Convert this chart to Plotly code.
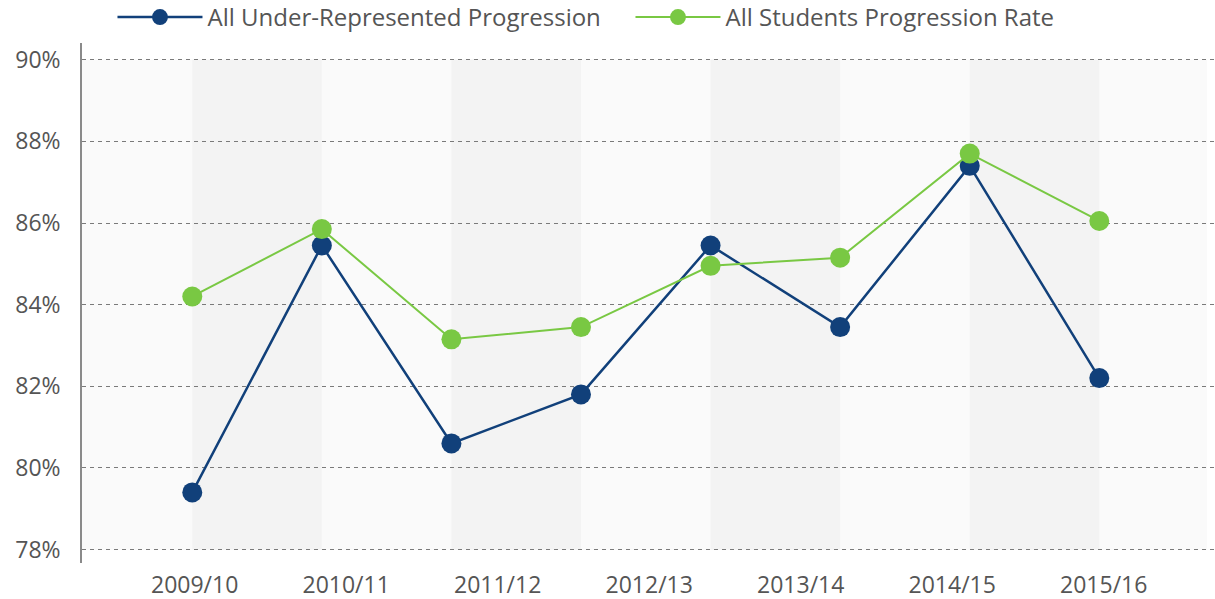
import plotly.graph_objects as go

# ---- data ----
periods = list(range(8))
under_represented = [79.4, 85.45, 80.6, 81.8, 85.45, 83.45, 87.4, 82.2]
all_students = [84.2, 85.85, 83.15, 83.45, 84.95, 85.15, 87.7, 86.05]
year_labels = ["2009/10", "2010/11", "2011/12", "2012/13", "2013/14", "2014/15", "2015/16"]
y_ticks = [78, 80, 82, 84, 86, 88, 90]

NAVY = "#11407a"
GREEN = "#79c843"
TEXT = "#555555"
FONT = "Open Sans"

# layout constants (styling only)
x_range = [-0.851, 7.893]
bg_right = 7.831
label_start, label_step = 0.0185, 1.1693
y_range = [77.67, 90.41]

fig = go.Figure()
fig.add_trace(go.Scatter(
    x=periods, y=under_represented, mode="lines+markers",
    name="All Under-Represented Progression",
    line=dict(color=NAVY, width=2.5),
    marker=dict(color=NAVY, size=20),
))
fig.add_trace(go.Scatter(
    x=periods, y=all_students, mode="lines+markers",
    name="All Students Progression Rate",
    line=dict(color=GREEN, width=2),
    marker=dict(color=GREEN, size=20),
))

shapes = [dict(type="rect", xref="x", yref="y", x0=x_range[0], x1=bg_right,
               y0=y_ticks[0], y1=y_ticks[-1], fillcolor="#fafafa",
               line=dict(width=0), layer="below")]
for i in range(0, len(periods) - 1, 2):
    shapes.append(dict(type="rect", xref="x", yref="y", x0=periods[i], x1=periods[i + 1],
                       y0=y_ticks[0], y1=y_ticks[-1], fillcolor="#f3f3f3",
                       line=dict(width=0), layer="below"))

fig.update_layout(
    width=1215, height=599,
    margin=dict(l=82, r=0, t=43, b=36, autoexpand=False),
    paper_bgcolor="white", plot_bgcolor="white",
    font=dict(family=FONT, size=23, color=TEXT),
    shapes=shapes,
    showlegend=True,
    legend=dict(orientation="h", x=0.0269, xanchor="left", y=1.049, yanchor="middle",
                font=dict(family=FONT, size=24, color=TEXT), itemwidth=85,
                entrywidth=418, entrywidthmode="pixels",
                bgcolor="rgba(0,0,0,0)"),
    xaxis=dict(range=x_range, showgrid=False, zeroline=False, showline=False,
               automargin=False, tickmode="array",
               tickvals=[label_start + i * label_step for i in range(len(year_labels))],
               ticktext=year_labels, ticks="", ticklabelstandoff=6),
    yaxis=dict(range=y_range, tickmode="array", tickvals=y_ticks, automargin=False,
               ticktext=[f"{v}%" for v in y_ticks],
               showgrid=True, gridcolor="#7a7a7a", gridwidth=1, griddash="4px,4px",
               zeroline=False, showline=True, linecolor="#8a8a8a", linewidth=1.5,
               ticks="", ticklabelstandoff=15),
)

fig.write_html("out.html", config={"displayModeBar": False},
               post_script="document.body.style.margin='0';")
